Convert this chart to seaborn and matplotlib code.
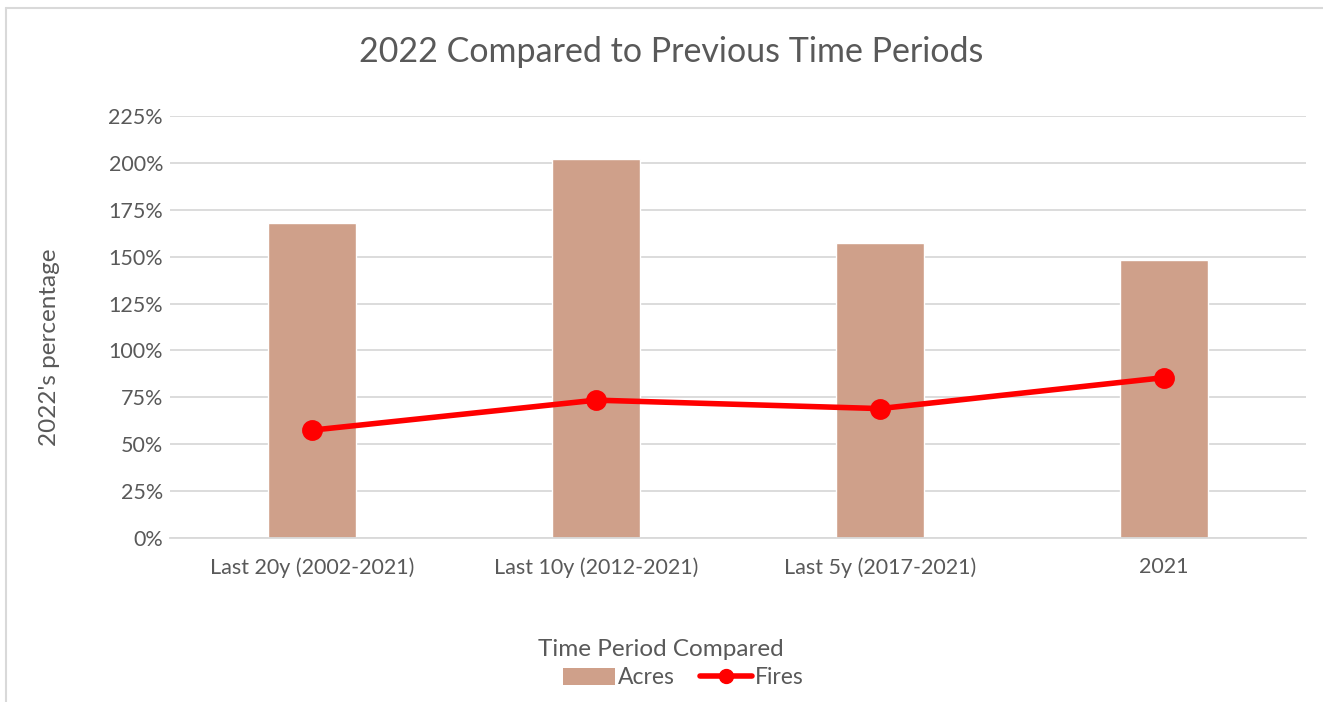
import numpy as np
import pandas as pd
import matplotlib
matplotlib.use("Agg")
import matplotlib.pyplot as plt
import matplotlib.ticker as mticker
from matplotlib.lines import Line2D
from matplotlib.patches import Patch
import seaborn as sns

# data
periods = ['Last 20y (2002-2021)', 'Last 10y (2012-2021)', 'Last 5y (2017-2021)', '2021']
acres = [168, 202, 157.5, 148]
fires = [57.5, 73.5, 69, 85.5]

df = pd.DataFrame({'period': periods, 'acres': acres, 'fires': fires})

sns.set_theme(style="white")
plt.rcParams['font.family'] = ['Lato', 'DejaVu Sans']
text_col = '#595959'
grid_col = '#d9d9d9'

fig = plt.figure(figsize=(13.23, 7.02), dpi=100)
ax = fig.add_axes([170 / 1323, (702 - 538) / 702, (1306 - 170) / 1323, (538 - 116) / 702])

sns.barplot(data=df, x='period', y='acres', color='#cfa08a', saturation=1,
            width=0.31, ax=ax, zorder=2)
sns.pointplot(data=df, x='period', y='fires', color='#ff0000', markers='o',
              markersize=12, linewidth=4, ax=ax, zorder=3)

ax.set_ylim(0, 225)
ax.set_xlim(-0.5, 3.5)
ax.yaxis.set_major_locator(mticker.MultipleLocator(25))
ax.yaxis.set_major_formatter(mticker.FuncFormatter(lambda v, p: f"{v:.0f}%"))
ax.grid(axis='y', color=grid_col, linewidth=1.3, zorder=0)
ax.set_axisbelow(True)
for s in ['top', 'right', 'left']:
    ax.spines[s].set_visible(False)
ax.spines['bottom'].set_color(grid_col)
ax.spines['bottom'].set_linewidth(1.3)
ax.tick_params(axis='both', length=0, labelsize=15.5, colors=text_col)
ax.tick_params(axis='y', pad=5)
ax.tick_params(axis='x', pad=14)

ax.set_ylabel("2022's percentage", fontsize=17.5, color=text_col, va='center')
ax.yaxis.set_label_coords((50 - 170) / 1136, (538 - 347) / 422)
ax.set_xlabel("")
fig.text(661 / 1323, 1 - 650 / 702, "Time Period Compared", ha='center', va='center',
         fontsize=17.5, color=text_col)
fig.text(671 / 1323, 1 - 52 / 702, "2022 Compared to Previous Time Periods", ha='center',
         va='center', fontsize=24.5, color=text_col)

handles = [Patch(facecolor='#cfa08a', edgecolor='none', label='Acres'),
           Line2D([0], [0], color='#ff0000', linewidth=4, marker='o', markersize=10,
                  label='Fires')]
fig.legend(handles=handles, loc='center', bbox_to_anchor=(683 / 1323, 1 - 678 / 702),
           ncol=2, frameon=False, fontsize=16.5, labelcolor=text_col,
           handlelength=2.3, handleheight=0.8, handletextpad=0.1, columnspacing=1.1)

# chart frame (only left and top edges visible)
fig.add_artist(Line2D([6 / 1323, 6 / 1323], [0, 1 - 8 / 702], color=grid_col, linewidth=1.5))
fig.add_artist(Line2D([6 / 1323, 1], [1 - 8 / 702, 1 - 8 / 702], color=grid_col, linewidth=1.5))

fig.savefig("out.png", dpi=100, facecolor='white')
